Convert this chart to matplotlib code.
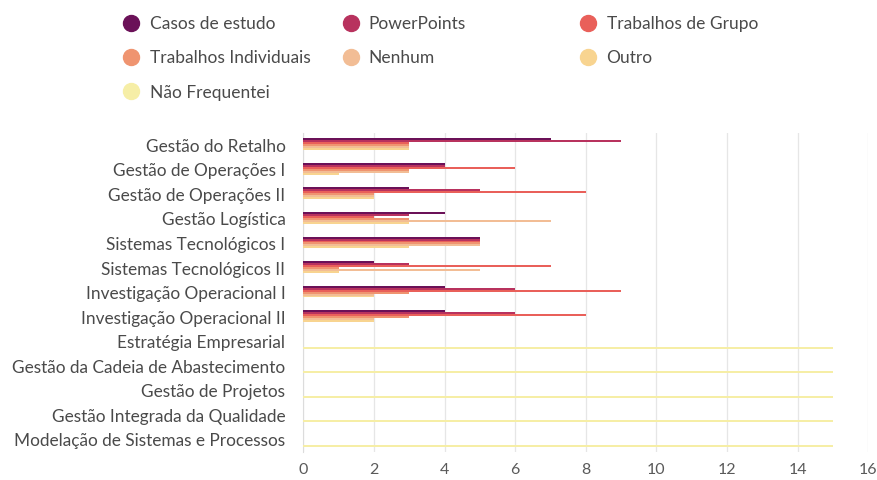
import matplotlib.pyplot as plt
from matplotlib.lines import Line2D
import numpy as np

categories = [
    "Gestão do Retalho",
    "Gestão de Operações I",
    "Gestão de Operações II",
    "Gestão Logística",
    "Sistemas Tecnológicos I",
    "Sistemas Tecnológicos II",
    "Investigação Operacional I",
    "Investigação Operacional II",
    "Estratégia Empresarial",
    "Gestão da Cadeia de Abastecimento",
    "Gestão de Projetos",
    "Gestão Integrada da Qualidade",
    "Modelação de Sistemas e Processos",
]

series_names = ["Casos de estudo", "PowerPoints", "Trabalhos de Grupo",
                "Trabalhos Individuais", "Nenhum", "Outro", "Não Frequentei"]

casos = [7, 4, 3, 4, 5, 2, 4, 4, 0, 0, 0, 0, 0]
powerpoints = [9, 4, 5, 3, 5, 3, 6, 6, 0, 0, 0, 0, 0]
grupo = [3, 6, 8, 2, 5, 7, 9, 8, 0, 0, 0, 0, 0]
individuais = [3, 3, 2, 3, 5, 1, 3, 3, 0, 0, 0, 0, 0]
nenhum = [3, 3, 2, 7, 5, 5, 2, 2, 0, 0, 0, 0, 0]
outro = [3, 1, 2, 3, 3, 1, 2, 2, 0, 0, 0, 0, 0]
nao_freq = [0, 0, 0, 0, 0, 0, 0, 0, 15, 15, 15, 15, 15]

colors = ["#6b1158", "#b8325e", "#e9605a", "#ef9470", "#f2bd95", "#f8d490", "#f6eea6"]

plt.rcParams["font.family"] = ["Lato", "DejaVu Sans"]
text_color = "#4a4a4a"

fig = plt.figure(figsize=(8.77, 4.8), dpi=100)
ax = fig.add_axes([0.346, 0.058, 0.644, 0.665])

values = [casos, powerpoints, grupo, individuais, nenhum, outro, nao_freq]
y = np.arange(len(categories))
n = len(values)
h = 0.08
for i, (vals, c) in enumerate(zip(values, colors)):
    offs = (i - (n - 1) / 2) * h
    ax.barh(y + offs, vals, height=h, color=c, zorder=3)

ax.set_yticks(y)
ax.set_yticklabels(categories, fontsize=12.4, color=text_color)
ax.set_ylim(len(categories) - 0.5, -0.5)
ax.set_xlim(0, 16)
ax.set_xticks(range(0, 17, 2))
ax.tick_params(axis="x", labelsize=11.5, colors="#5a5a5a", length=0, pad=8)
ax.tick_params(axis="y", length=0, pad=13)
ax.grid(axis="x", color="#e6e6e6", linewidth=0.9, zorder=0)
for s in ["top", "right", "bottom"]:
    ax.spines[s].set_visible(False)
ax.spines["left"].set_color("#dcdcdc")

# one legend per column, placed like the reference
columns = [[0, 3, 6], [1, 4], [2, 5]]
col_x = [0.132, 0.382, 0.653]
for idx, x0 in zip(columns, col_x):
    handles = [Line2D([], [], marker="o", linestyle="", markersize=11.5,
                      markerfacecolor=colors[i], markeredgecolor=colors[i]) for i in idx]
    leg = fig.legend(handles, [series_names[i] for i in idx], loc="upper left",
                     bbox_to_anchor=(x0, 0.981), frameon=False, fontsize=12.5,
                     handletextpad=0.55, labelspacing=1.05, borderaxespad=0,
                     handlelength=1.0)
    for t in leg.get_texts():
        t.set_color(text_color)

fig.savefig("out.png", dpi=100)
